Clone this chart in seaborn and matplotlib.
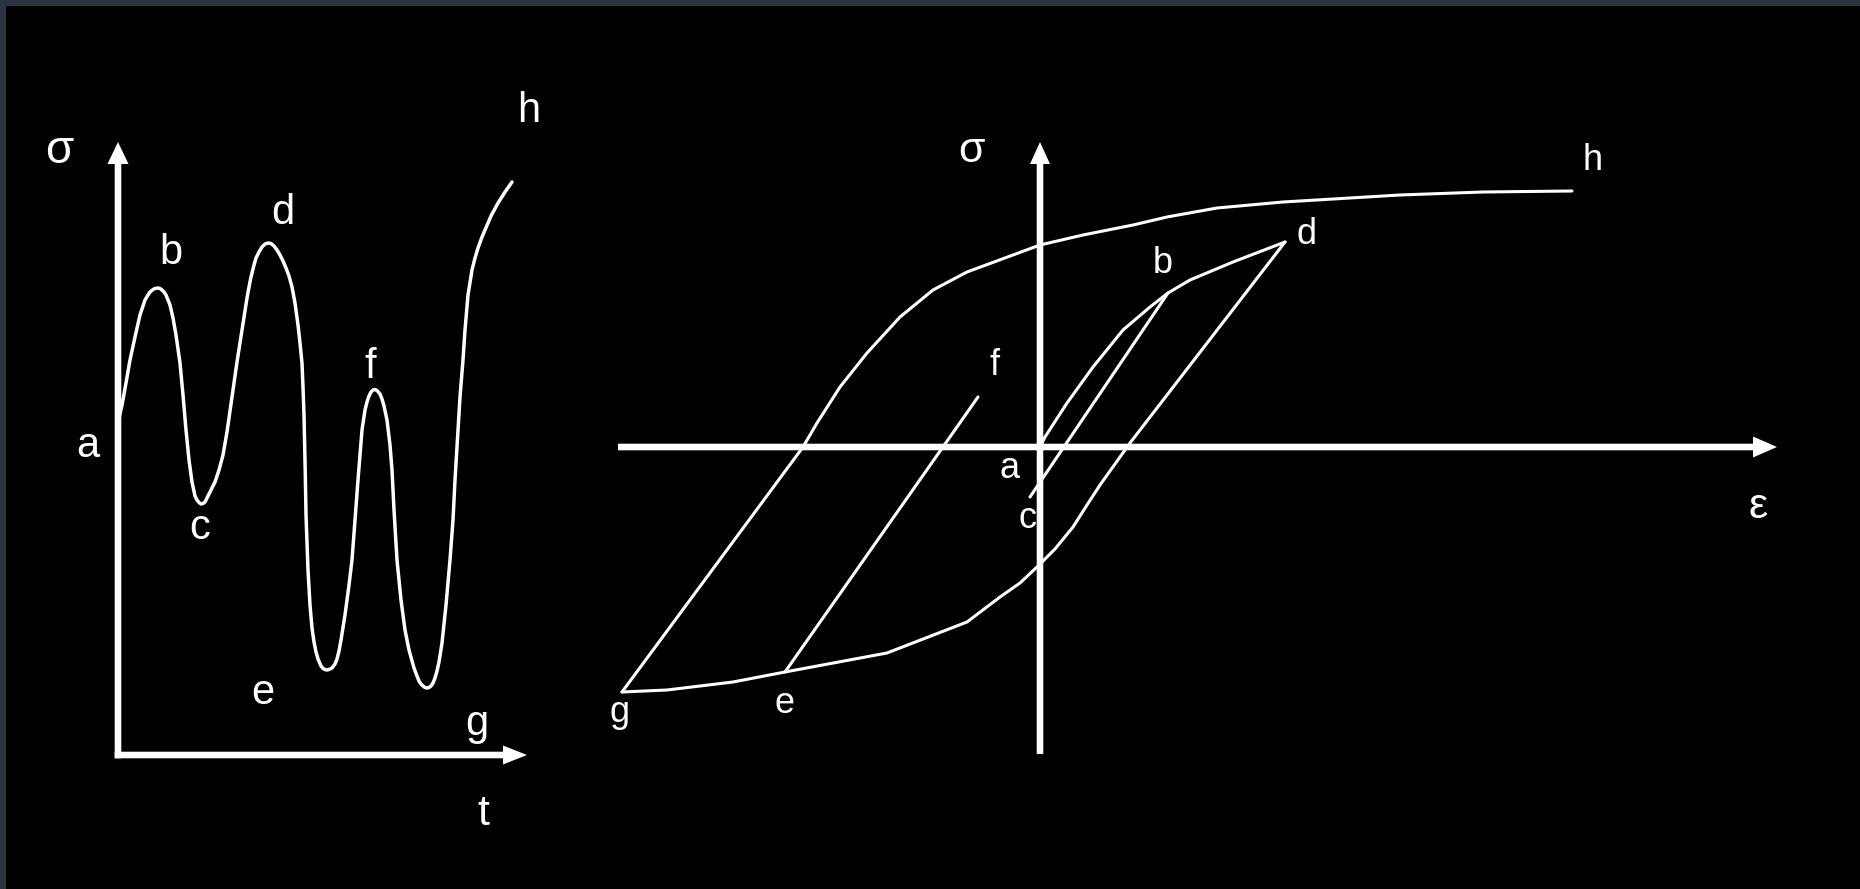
import matplotlib
matplotlib.use("Agg")
import matplotlib.pyplot as plt
from matplotlib.patches import Rectangle
import pandas as pd
import seaborn as sns

# ---------------------------------------------------------------------------
# Stress history sigma(t) (left panel); units are arbitrary, origin at the
# corner of the axes, sigma positive upwards.
# ---------------------------------------------------------------------------
t_hist = [0, 4, 8, 12, 17, 22, 27, 30, 32, 35, 37, 40, 42, 44, 46, 48, 52, 55,
          58, 62, 65, 68, 71, 74, 77, 79, 81, 83, 85, 87, 92, 97, 101, 105,
          109, 114, 119, 124, 129, 131, 133, 136, 138, 141, 144, 147, 150, 153,
          156, 159, 162, 165, 168, 171, 174, 177, 180, 182, 184, 185, 186,
          186.7, 187.3, 188, 190, 192, 194, 196, 198, 200, 203, 205, 207, 209,
          211, 214, 217, 219, 221, 223, 227, 231, 234, 237, 240, 242, 244, 247,
          249, 251, 253, 255, 257, 259, 262, 264, 266, 269, 272, 274, 276, 279,
          283, 287, 291, 294, 296, 299, 301, 303, 305, 307, 309, 311, 313, 315,
          317, 319, 321, 324, 328, 332, 335, 337, 340, 342, 345, 347, 350, 354,
          357, 360, 364, 367, 373, 380, 387, 394]
sigma_hist = [332, 350, 372, 395, 418, 440, 455, 460, 463, 465.5, 466.5, 467,
              466.5, 465, 463, 460, 450, 437, 420, 392, 360, 325, 295, 273, 259,
              255, 252.5, 251, 251.5, 253, 263, 273, 285, 300, 323, 358, 393,
              425, 457, 468, 478, 490, 497, 503, 508, 511, 512, 511.5, 509, 505,
              500, 494, 487, 479, 468, 452, 430, 412, 392, 368, 340, 310, 280,
              240, 185, 150, 127, 113, 103, 96, 89, 86.5, 85.5, 85, 85.5, 87, 91,
              96, 104, 115, 140, 170, 195, 235, 275, 300, 325, 345, 353, 359,
              363, 365, 365.5, 364.5, 361, 356, 349, 335, 310, 285, 245, 195,
              155, 125, 105, 94, 87, 79, 74, 71, 69, 67.5, 67, 67.5, 69, 72, 77,
              84, 93, 112, 150, 195, 235, 275, 325, 358, 395, 425, 460, 485,
              497, 507, 518, 525, 539, 552, 563, 573]
hist_points = ["a", "b", "c", "d", "e", "f", "g", "h"]

# ---------------------------------------------------------------------------
# Stress-strain response (right panel); origin at the axis crossing.
# ---------------------------------------------------------------------------
# outer branch h -> g
eps_outer = [532, 443, 360, 310, 243, 177, 127, 93, 43, 0, -73, -107, -140,
             -173, -200, -223, -237, -418]
sig_outer = [256, 255, 252, 249, 245, 239, 230, 222, 212, 202, 175, 157, 130,
             94, 60, 24, 0, -245]
# lower branch g -> e -> d
eps_lower = [-418, -373, -307, -255, -153, -73, -40, -20, -3, 15, 33, 47, 60,
             75, 90, 245]
sig_lower = [-245, -243, -235, -225, -206, -175, -150, -136, -120, -102, -80,
             -58, -38, -17, 4, 205]
# reloading e -> f
eps_ef = [-255, -62]
sig_ef = [-225, 50]
# first loading a -> b -> d
eps_abd = [0, 5, 27, 53, 83, 110, 128, 150, 193, 245]
sig_abd = [0, 10, 44, 80, 117, 140, 154, 167, 185, 205]
# unloading b -> c
eps_bc = [128, -10]
sig_bc = [154, -50]

W, H = 1860, 889
DPI = 100

sns.set_theme(style="white")
plt.rcParams["font.family"] = ["Liberation Sans", "DejaVu Sans"]

fig = plt.figure(figsize=(W / DPI, H / DPI), dpi=DPI)
fig.patch.set_facecolor("black")


def panel(x0, y0, x1, y1, ox, oy):
    """Axes over a pixel box of the figure; one data unit per pixel,
    origin at (ox, oy), values increasing rightwards and upwards."""
    ax = fig.add_axes([x0 / W, (H - y1) / H, (x1 - x0) / W, (y1 - y0) / H])
    ax.set_xlim(x0 - ox, x1 - ox)
    ax.set_ylim(oy - y1, oy - y0)
    ax.set_facecolor("none")
    ax.set_axis_off()
    return ax


def axis_arrow(ax, x, y, dx, dy, head_w, head_l):
    ax.arrow(x, y, dx, dy, width=6.6, head_width=head_w, head_length=head_l,
             length_includes_head=True, fc="white", ec="none", zorder=5)


# ---------------- left panel: sigma(t) ----------------
ax1 = panel(20, 60, 600, 860, 118, 755)
axis_arrow(ax1, 0, -3.3, 0, 613 + 3.3, 21, 22)
axis_arrow(ax1, -3.3, 0, 409 + 3.3, 0, 19, 24)
sns.lineplot(x=t_hist, y=sigma_hist, sort=False, estimator=None,
             color="white", linewidth=2.5, ax=ax1, zorder=4)

lab_left = {"a": (-30, 298), "b": (53, 491), "c": (82, 216), "d": (165, 531),
            "e": (145, 51), "f": (252, 377), "g": (359, 20), "h": (411, 633)}
for name in hist_points:
    x, y = lab_left[name]
    ax1.text(x, y, name, color="white", fontsize=30, ha="center",
             va="baseline", zorder=6)
ax1.text(-59, 592, "σ", color="white", fontsize=33, ha="center", va="baseline")
ax1.text(365, -70, "t", color="white", fontsize=31, ha="center", va="baseline")

# ---------------- right panel: sigma(epsilon) ----------------
ax2 = panel(600, 100, 1840, 800, 1040, 447)
axis_arrow(ax2, 0, -307, 0, 305 + 307, 20, 22)
axis_arrow(ax2, -422, 0, 737 + 422, 0, 21, 24)

for xs, ys in [(eps_outer, sig_outer), (eps_lower, sig_lower),
               (eps_ef, sig_ef), (eps_abd, sig_abd), (eps_bc, sig_bc)]:
    df = pd.DataFrame({"eps": xs, "sig": ys})
    sns.lineplot(data=df, x="eps", y="sig", sort=False, estimator=None,
                 color="white", linewidth=2.2, ax=ax2, zorder=4)

lab_right = {"a": (-30, -31), "b": (123, 174), "c": (-13, -81), "d": (267, 203),
             "e": (-255, -266), "f": (-45, 72), "g": (-420, -275),
             "h": (553, 277)}
for name in hist_points:
    x, y = lab_right[name]
    ax2.text(x, y, name, color="white", fontsize=26, ha="center",
             va="baseline", zorder=3)
ax2.text(-68, 285, "σ", color="white", fontsize=31, ha="center", va="baseline")
ax2.text(718, -71, "ε", color="white", fontsize=31, ha="center", va="baseline")

# thin frame along the top and left edges
fig.add_artist(Rectangle((0, 1 - 6 / H), 1, 6 / H, transform=fig.transFigure,
                         fc="#2a3342", ec="none", zorder=10))
fig.add_artist(Rectangle((0, 0), 6 / W, 1, transform=fig.transFigure,
                         fc="#2a3342", ec="none", zorder=10))

fig.savefig("out.png", dpi=DPI, facecolor="black")
